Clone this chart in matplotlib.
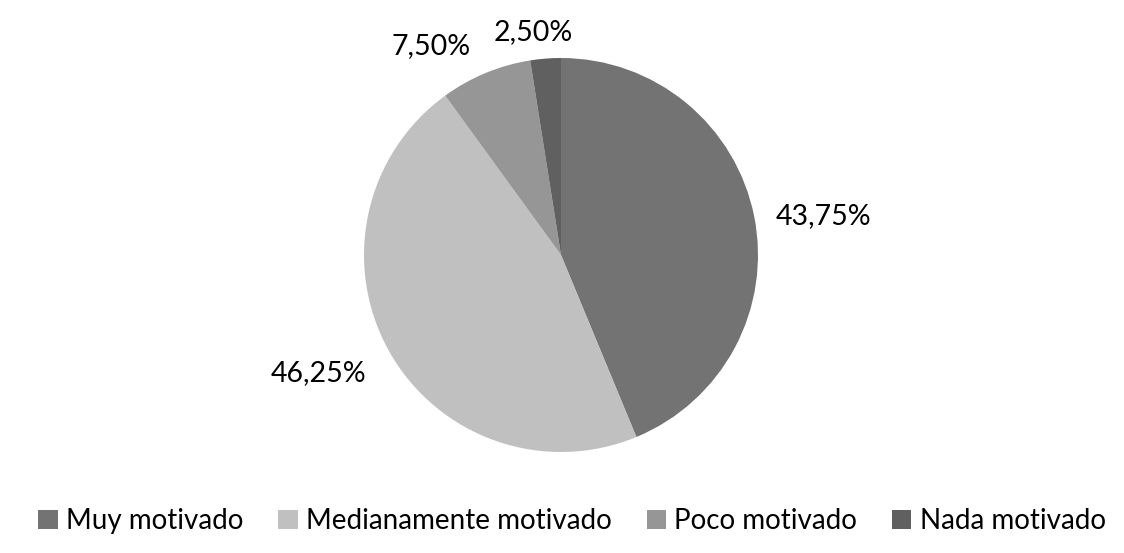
import matplotlib
matplotlib.use("Agg")
import matplotlib.pyplot as plt
from matplotlib.patches import Patch
import numpy as np

categories = ["Muy motivado", "Medianamente motivado", "Poco motivado", "Nada motivado"]
values = [43.75, 46.25, 7.50, 2.50]
value_labels = ["43,75%", "46,25%", "7,50%", "2,50%"]
colors = ["#737373", "#c0c0c0", "#969696", "#606060"]

# label placement (angle in degrees, distance in radii)
label_angles = [8.5, -154.0, 121.8, 97.0]
label_dists = [1.345, 1.37, 1.25, 1.14]

plt.rcParams['font.family'] = ['Lato', 'DejaVu Sans']

fig = plt.figure(figsize=(11.24, 5.53), dpi=100)
ax = fig.add_axes([(561 - 197) / 1124, (553 - 452) / 553, 394 / 1124, 394 / 553])
wedges, _ = ax.pie(values, colors=colors, startangle=90, counterclock=False,
                   wedgeprops=dict(linewidth=0))
ax.set_xlim(-1, 1)
ax.set_ylim(-1, 1)
ax.set_aspect('equal')
for lab, a, d in zip(value_labels, label_angles, label_dists):
    r = np.deg2rad(a)
    ax.text(d * np.cos(r), d * np.sin(r), lab, ha='center', va='center',
            fontsize=20.5, color='#000000', clip_on=False)

handles = [Patch(facecolor=c, edgecolor='none') for c in colors]
fig.legend(handles, categories, loc='center', bbox_to_anchor=(0.509, (553 - 521) / 553),
           ncol=4, frameon=False, fontsize=20, handlelength=0.7, handleheight=0.7,
           handletextpad=0.3, columnspacing=1.25)

fig.savefig("out.png", dpi=100, facecolor='white')
